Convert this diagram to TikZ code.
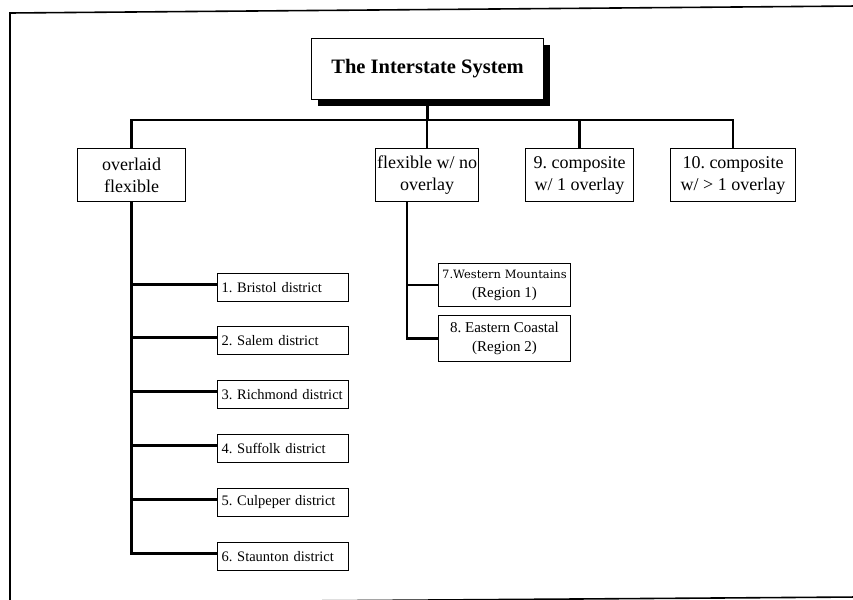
\documentclass[tikz,border=0pt]{standalone}
\usepackage{fontspec}
\setmainfont{Liberation Serif}
\newfontfamily\wfont{DejaVu Serif}
\usetikzlibrary{shadows,calc}
\frenchspacing
\begin{document}
\begin{tikzpicture}[x=1pt,y=-1pt,
  box/.style={draw, line width=1pt, rectangle, inner sep=0pt, anchor=north west, align=center, fill=white},
  topbox/.style={box, minimum height=53pt, font=\fontsize{18}{22}\selectfont},
  dist/.style={box, minimum width=131pt, minimum height=28pt, align=left, text width=123pt, font=\fontsize{14.5}{16}\selectfont},
  regbox/.style={box, minimum width=132pt, font=\fontsize{15}{19}\selectfont},
  conn/.style={line width=2.6pt},
  frame/.style={line width=1.6pt}]
\useasboundingbox (0,0) rectangle (853,599);
% outer frame
\draw[frame] (858,6) -- (10,13) -- (10,604);
\draw[frame] (10,603) -- (858,597);
% title
\node[box, line width=1.2pt, minimum width=232pt, minimum height=61pt,
      font=\bfseries\fontsize{20.5}{24}\selectfont,
      drop shadow={shadow xshift=6pt, shadow yshift=-6pt, fill=black, opacity=1}]
  (T) at (311,38) {The Interstate System};
% top level
\node[topbox, minimum width=108pt] (A) at (77,148) {overlaid\\flexible};
\node[topbox, minimum width=103pt] (B) at (375,148) {flexible w/ no\\overlay};
\node[topbox, minimum width=108pt] (C) at (525,148) {9. composite\\w/ 1 overlay};
\node[topbox, minimum width=125pt] (D) at (670,148) {10. composite\\w/ > 1 overlay};
% districts
\node[dist] (d1) at (217,273) {1. Bristol district};
\node[dist] (d2) at (217,326) {2. Salem district};
\node[dist] (d3) at (217,380) {3. Richmond district};
\node[dist] (d4) at (217,434) {4. Suffolk district};
\node[dist] (d5) at (217,488) {5. Culpeper district};
\node[dist] (d6) at (217,542) {6. Staunton district};
% regions
\node[regbox, minimum height=43pt] (R7) at (438,263) {{\wfont\fontsize{11.5}{19}\selectfont 7.Western Mountains}\\(Region 1)};
\node[regbox, minimum height=46pt] (R8) at (438,315) {8. Eastern Coastal\\(Region 2)};
% connectors
\coordinate (bus) at (0,120);
\draw[conn] (A.north) -- (A.north |- bus) -- (D.north |- bus) -- (D.north);
\draw[conn] (T.south) -- (T.south |- bus);
\draw[conn] (B.north |- bus) -- (B.north);
\draw[conn] (C.north |- bus) -- (C.north);
\foreach \i in {1,...,6} {\coordinate (e\i) at ([yshift=3pt]d\i.west);}
\draw[conn] (A.south) |- (e6);
\foreach \i in {1,...,5} {\draw[conn] (A.south |- e\i) -- (e\i);}
\coordinate (bt) at ($(B.south west)+(32,0)$);
\draw[conn] (bt) |- (R8.west);
\draw[conn] (bt |- R7.west) -- (R7.west);
\end{tikzpicture}
\end{document}
